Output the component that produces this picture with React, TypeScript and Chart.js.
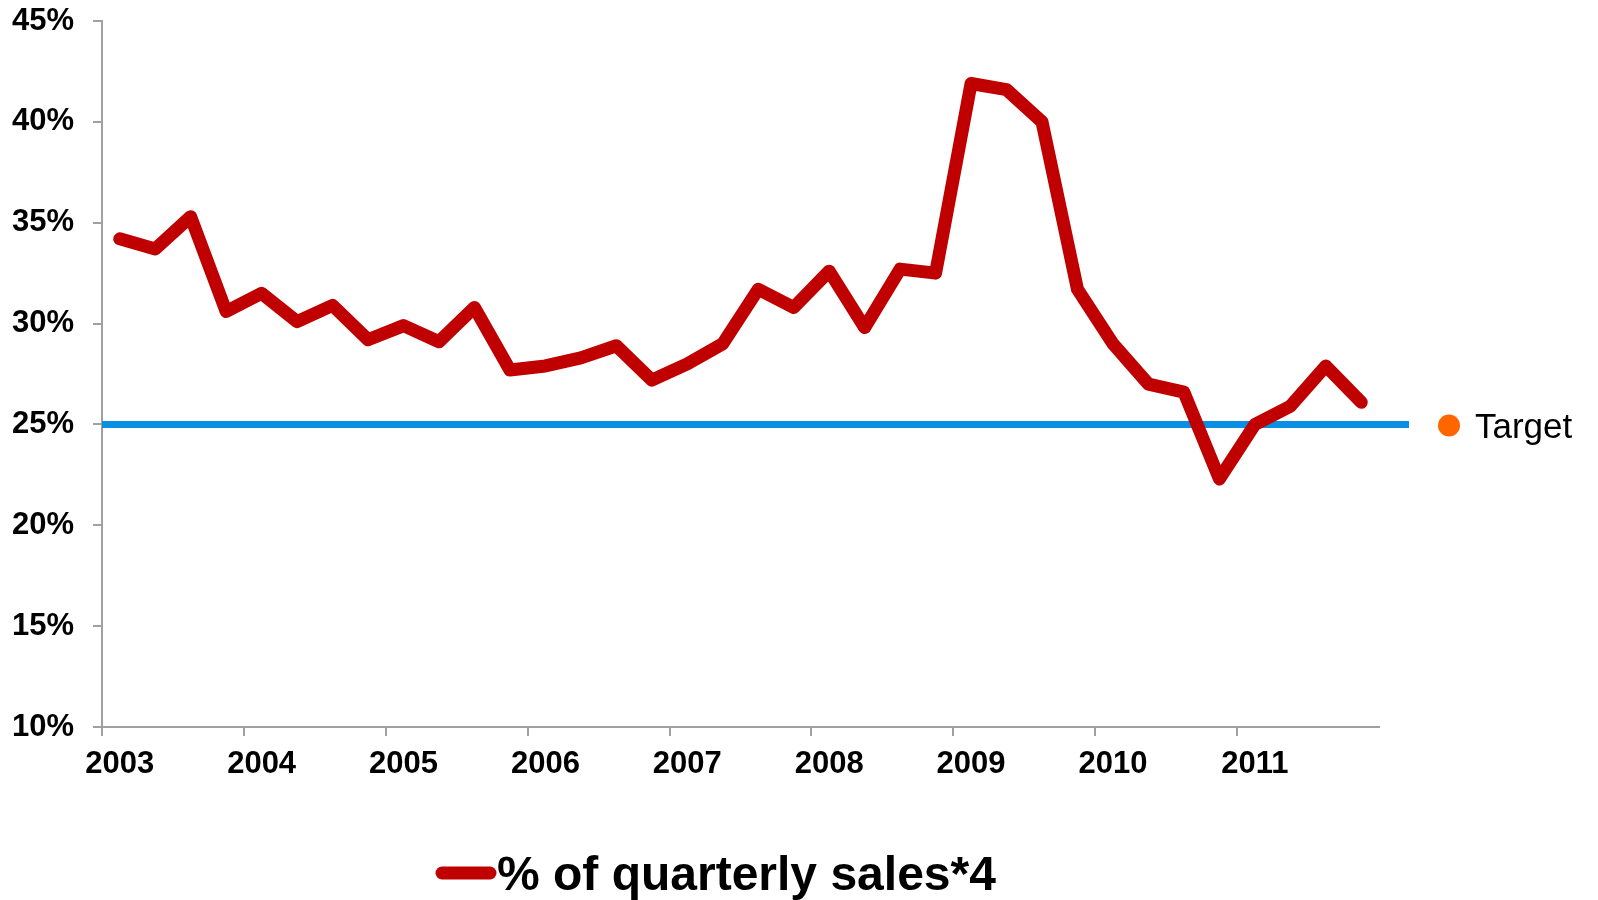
import React, { useEffect, useRef } from "react";
import { Chart, registerables } from "chart.js";

Chart.register(...registerables);

const years = ["2003", "2004", "2005", "2006", "2007", "2008", "2009", "2010", "2011"];
const quarters = ["Q1", "Q2", "Q3", "Q4"];
const salesPct = [
  34.2, 33.7, 35.3, 30.6,
  31.5, 30.1, 30.9, 29.2,
  29.9, 29.1, 30.8, 27.7,
  27.9, 28.3, 28.9, 27.2,
  28.0, 29.0, 31.7, 30.8,
  32.6, 29.8, 32.7, 32.5,
  41.9, 41.6, 40.0, 31.7,
  29.0, 27.0, 26.6, 22.3,
  25.0, 25.9, 27.9, 26.1,
];
const targetValue = [25];
const seriesLabel = "% of quarterly sales*4";
const targetLabel = "Target";
const yTicks = { min: 10, max: 45, step: 5 };

const categories: string[] = [];
years.forEach((y) => quarters.forEach((q) => categories.push(y + " " + q)));

const RED = "#c00000";
const BLUE = "#0a8fe2";
const ORANGE = "#ff6600";
const AXIS = "#a0a0a0";
const FONT = "'Liberation Sans', Arial, sans-serif";

const targetPlugin = {
  id: "targetLine",
  beforeDatasetsDraw(chart: any) {
    const { ctx, chartArea, scales } = chart;
    const y = scales.y.getPixelForValue(targetValue[0]);
    ctx.save();
    ctx.strokeStyle = BLUE;
    ctx.lineWidth = 7;
    ctx.lineCap = "butt";
    ctx.beginPath();
    ctx.moveTo(chartArea.left, y);
    ctx.lineTo(chartArea.right + 30, y);
    ctx.stroke();
    ctx.fillStyle = ORANGE;
    ctx.beginPath();
    ctx.arc(chartArea.right + 70, y + 1, 11, 0, Math.PI * 2);
    ctx.fill();
    ctx.fillStyle = "#000";
    ctx.font = "35px " + FONT;
    ctx.textBaseline = "alphabetic";
    ctx.textAlign = "left";
    ctx.fillText(targetLabel, chartArea.right + 96, y + 14);
    ctx.restore();
  },
};

const legendPlugin = {
  id: "bottomLegend",
  afterDraw(chart: any) {
    const { ctx } = chart;
    ctx.save();
    ctx.strokeStyle = RED;
    ctx.lineWidth = 13;
    ctx.lineCap = "round";
    ctx.beginPath();
    ctx.moveTo(442, 873);
    ctx.lineTo(490, 873);
    ctx.stroke();
    ctx.fillStyle = "#000";
    ctx.font = "bold 48px " + FONT;
    ctx.textAlign = "left";
    ctx.textBaseline = "alphabetic";
    ctx.fillText(seriesLabel, 497, 890);
    ctx.restore();
  },
};

export default function App() {
  const canvasRef = useRef<HTMLCanvasElement | null>(null);

  useEffect(() => {
    if (!canvasRef.current) return;
    const chart = new Chart(canvasRef.current, {
      type: "line",
      data: {
        labels: categories,
        datasets: [
          {
            label: seriesLabel,
            data: salesPct,
            borderColor: RED,
            backgroundColor: RED,
            borderWidth: 13,
            borderCapStyle: "round",
            borderJoinStyle: "round",
            pointRadius: 0,
            tension: 0,
            fill: false,
          },
        ],
      },
      options: {
        responsive: false,
        animation: false,
        devicePixelRatio: 1,
        layout: { padding: { left: 0, top: 21, right: 219, bottom: 0 } },
        plugins: {
          legend: { display: false },
          tooltip: { enabled: false },
          title: { display: false },
        },
        scales: {
          x: {
            type: "category",
            offset: true,
            afterFit: (s: any) => {
              s.height = 173;
              s.paddingLeft = 0;
              s.paddingRight = 0;
            },
            grid: {
              display: true,
              offset: true,
              drawOnChartArea: false,
              drawTicks: true,
              tickLength: 9,
              lineWidth: 2,
              color: (c: any) => (c.index % 4 === 0 ? AXIS : "rgba(0,0,0,0)"),
            },
            border: { display: true, color: AXIS, width: 2 },
            ticks: {
              autoSkip: false,
              maxRotation: 0,
              minRotation: 0,
              padding: 10,
              color: "#000",
              font: { family: FONT, size: 31, weight: "bold" },
              callback: (_v: any, i: number) => (i % 4 === 0 ? years[i / 4] : ""),
            },
          },
          y: {
            min: yTicks.min,
            max: yTicks.max,
            afterFit: (s: any) => {
              s.width = 102;
              s.paddingTop = 0;
              s.paddingBottom = 0;
            },
            grid: {
              display: true,
              drawOnChartArea: false,
              drawTicks: true,
              tickLength: 9,
              lineWidth: 2,
              color: AXIS,
            },
            border: { display: true, color: AXIS, width: 2 },
            ticks: {
              stepSize: yTicks.step,
              padding: 19,
              color: "#000",
              font: { family: FONT, size: 31, weight: "bold" },
              callback: (v: any) => v + "%",
            },
          },
        },
      },
      plugins: [targetPlugin, legendPlugin],
    });
    return () => chart.destroy();
  }, []);

  return (
    <div style={{ position: "absolute", left: 0, top: 0, width: 1598, height: 900, background: "#fff" }}>
      <canvas ref={canvasRef} width={1598} height={900} style={{ width: 1598, height: 900 }} />
    </div>
  );
}
